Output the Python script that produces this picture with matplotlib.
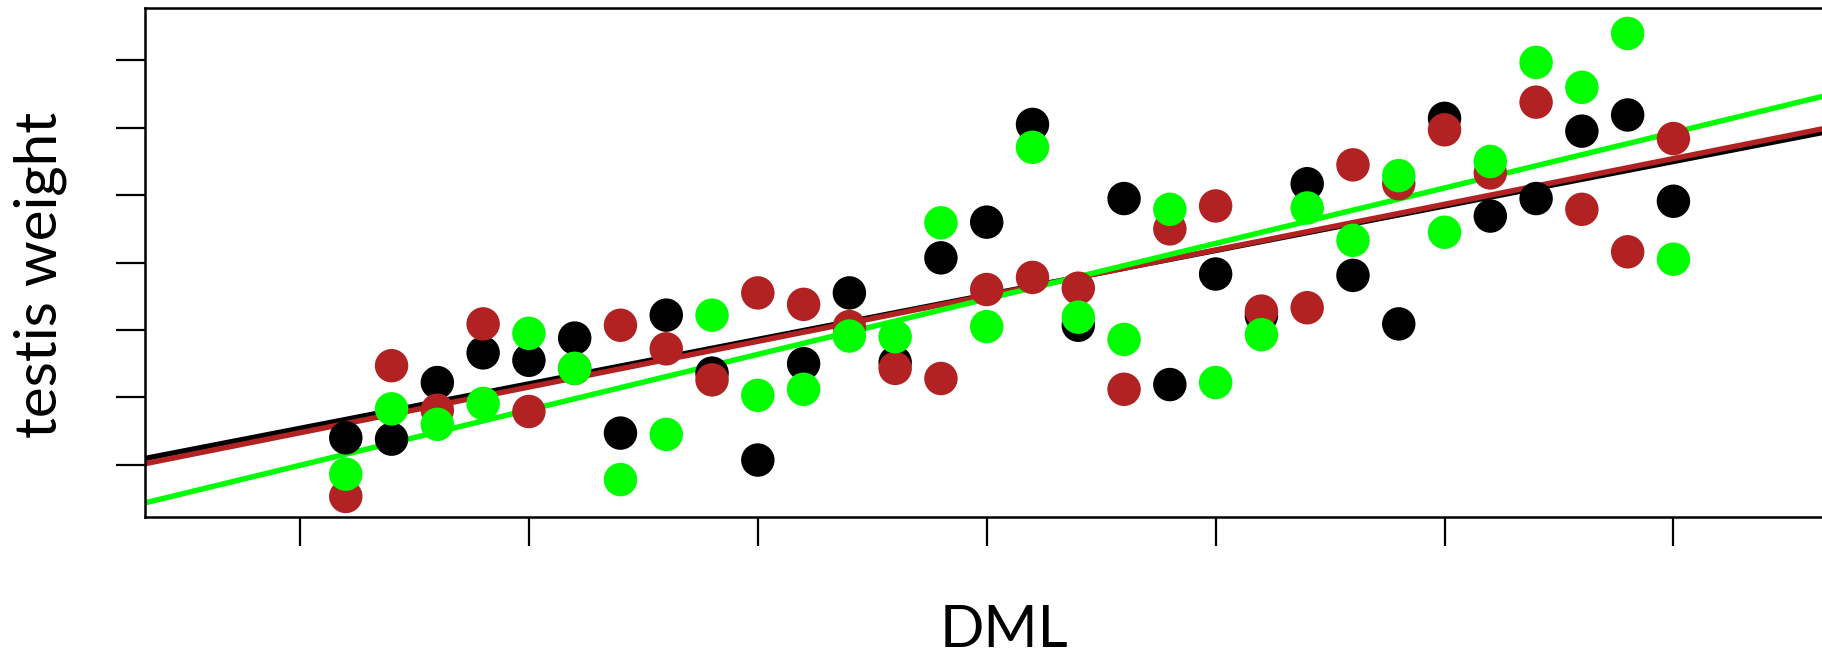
import numpy as np
import matplotlib.pyplot as plt

# DML positions (same for all three series)
dml = [1.2, 1.4, 1.6, 1.8, 2.0, 2.2, 2.4, 2.6, 2.8, 3.0,
       3.2, 3.4, 3.6, 3.8, 4.0, 4.2, 4.4, 4.6, 4.8, 5.0,
       5.2, 5.4, 5.6, 5.8, 6.0, 6.2, 6.4, 6.6, 6.8, 7.0]

# testis weight
weight_black = [1.40, 1.38, 2.22, 2.66, 2.55, 2.88, 1.47, 3.22, 2.36, 1.07,
                2.50, 3.55, 2.52, 4.07, 4.60, 6.05, 3.07, 4.95, 2.19, 3.83,
                3.21, 5.17, 3.81, 3.09, 6.14, 4.69, 4.95, 5.95, 6.19, 4.91]
weight_red = [0.53, 2.47, 1.81, 3.09, 1.79, 2.43, 3.07, 2.72, 2.26, 3.55,
              3.38, 3.05, 2.43, 2.28, 3.60, 3.78, 3.62, 2.12, 4.50, 4.84,
              3.28, 3.33, 5.45, 5.17, 5.97, 5.33, 6.38, 4.79, 4.16, 5.84]
weight_green = [0.86, 1.83, 1.60, 1.91, 2.95, 2.43, 0.78, 1.45, 3.22, 2.03,
                2.12, 2.91, 2.90, 4.59, 3.05, 5.71, 3.19, 2.86, 4.79, 2.22,
                2.93, 4.81, 4.33, 5.29, 4.45, 5.50, 6.97, 6.60, 7.40, 4.05]

# fitted lines (intercept, slope) as drawn in the picture
intercepts = [0.880, 0.797, 0.169]
slopes = [0.660, 0.678, 0.823]

colors = ["#000000", "#B22222", "#00FF00"]
series = [weight_black, weight_red, weight_green]

fig = plt.figure(figsize=(18.22, 6.57), dpi=100)
ax = fig.add_axes([0.0796, 0.2131, 0.9204, 0.7747])

# lines underneath the points
for b, m, c in zip(intercepts, slopes, colors):
    ax.axline((0, b), slope=m, color=c, lw=3.9, zorder=1)

for y, c in zip(series, colors):
    ax.scatter(dml, y, s=580, color=c, edgecolors="none", zorder=2)

ax.set_xlim(0.323, 7.649)
ax.set_ylim(0.225, 7.777)
ax.set_xticks([1, 2, 3, 4, 5, 6, 7])
ax.set_yticks([1, 2, 3, 4, 5, 6, 7])
ax.set_xticklabels([])
ax.set_yticklabels([])
ax.tick_params(length=21, width=1.6, direction="out", color="black")
ax.spines["right"].set_visible(False)
for s in ["left", "top", "bottom"]:
    ax.spines[s].set_linewidth(1.8)

fig.text(0.022, 0.582, "testis weight", rotation=90, fontsize=42,
         family="Lato", ha="center", va="center")
fig.text(0.551, 0.040, "DML", fontsize=42, family="Lato",
         ha="center", va="center")

fig.savefig("out.png", dpi=100)
